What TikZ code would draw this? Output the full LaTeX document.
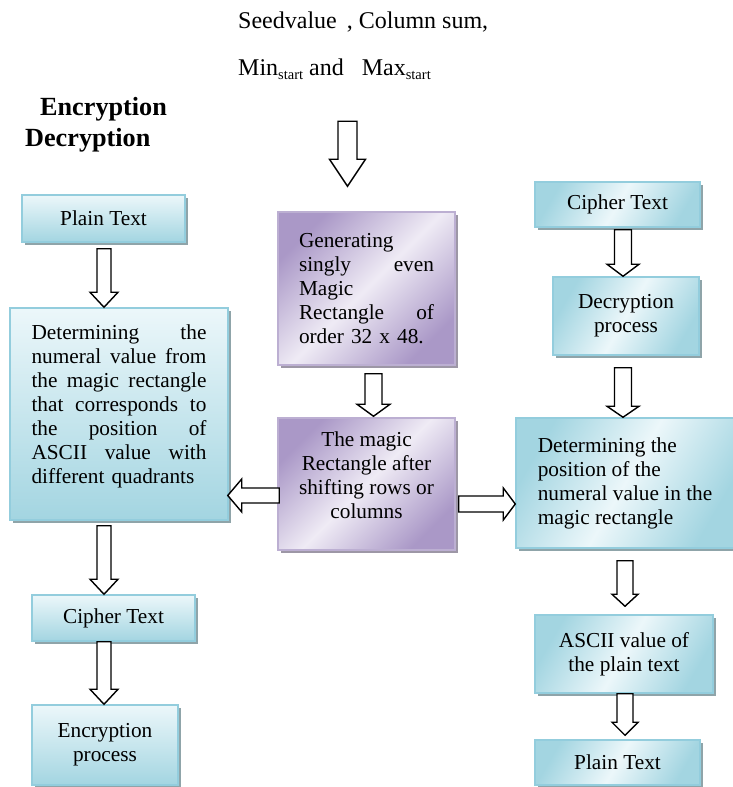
\documentclass[tikz,border=0pt]{standalone}
\usepackage{fontspec}
\setmainfont{Liberation Serif}
\usetikzlibrary{calc,shadows}

\definecolor{cyanEdge}{HTML}{93CDDD}
\definecolor{cyanDark}{HTML}{A3D5E1}
\definecolor{cyanLight}{HTML}{ECF7FA}
\definecolor{purpDark}{HTML}{AA98C7}
\definecolor{purpLight}{HTML}{EFEBF5}
\definecolor{purpEdge}{HTML}{BCAFD2}
\definecolor{shadowC}{HTML}{8FA4A9}
\definecolor{shadowP}{HTML}{9D97A6}

\newcommand\vblk[5]{\draw[blockarrow] let \p1=#1, \p2=#2 in
  (\x1-#3,\y1) -- (\x1+#3,\y1) -- (\x1+#3,\y2+#5) -- (\x1+#4,\y2+#5) -- (\x1,\y2)
  -- (\x1-#4,\y2+#5) -- (\x1-#3,\y2+#5) -- cycle;}
\newcommand\lblk[5]{\draw[blockarrow] let \p1=#1, \p2=#2 in
  (\x1,\y1+#3) -- (\x1,\y1-#3) -- (\x2+#5,\y1-#3) -- (\x2+#5,\y1-#4) -- (\x2,\y1)
  -- (\x2+#5,\y1+#4) -- (\x2+#5,\y1+#3) -- cycle;}
\newcommand\rblk[5]{\draw[blockarrow] let \p1=#1, \p2=#2 in
  (\x1,\y1+#3) -- (\x1,\y1-#3) -- (\x2-#5,\y1-#3) -- (\x2-#5,\y1-#4) -- (\x2,\y1)
  -- (\x2-#5,\y1+#4) -- (\x2-#5,\y1+#3) -- cycle;}
\newcommand\jline[2]{\makebox[#1][l]{#2}}

\tikzset{
  box/.style={draw, line width=1.5pt, font=\fontsize{21.3}{24}\selectfont,
    inner sep=0pt, align=center},
  cshadow/.style={drop shadow={shadow xshift=3pt, shadow yshift=-3pt, fill=shadowC, opacity=1}},
  pshadow/.style={drop shadow={shadow xshift=3pt, shadow yshift=-3pt, fill=shadowP, opacity=1}},
  cyanV/.style={box, draw=cyanEdge, top color=cyanLight, bottom color=cyanDark, cshadow},
  cyanD/.style={box, draw=cyanEdge, left color=cyanDark, right color=cyanDark,
    middle color=cyanLight, shading angle=60, cshadow},
  purp/.style={box, draw=purpEdge, left color=purpDark, right color=purpDark,
    middle color=purpLight, shading angle=45, pshadow},
  blockarrow/.style={draw=black, line width=1.4pt, fill=white, line join=miter},
  plaintext/.style={inner sep=0pt, font=\fontsize{24}{28}\selectfont},
  title/.style={inner sep=0pt, font=\fontsize{26.2}{30}\selectfont\bfseries},
}

\newcommand\subst{\raisebox{-4.5pt}{\fontsize{14.5}{16}\selectfont start}}

\begin{document}
\begin{tikzpicture}[x=1pt, y=-1pt]
\useasboundingbox (0,0) rectangle (732,787);

% top texts
\node[plaintext, anchor=base west] (seed1) at (238,28) {Seedvalue\hspace{10pt}, Column sum,};
\node[plaintext, anchor=base west] (seed2) at (238,75) {Min\subst{} and\hspace{18pt}Max\subst};

% titles
\node[title, anchor=base west] (enc) at (40,115) {Encryption};
\node[title, anchor=base west] (dec) at (25,146) {Decryption};

% left column
\node[cyanV, minimum width=163pt, minimum height=47pt] (ptL) at (103.5,218.5) {Plain Text};
\node[cyanV, minimum width=218pt, minimum height=212pt, text width=175pt, align=left] (detL) at (119,414)
  {\jline{175pt}{Determining\hfill the}\\
   \jline{175pt}{numeral\hfill value\hfill from}\\
   \jline{175pt}{the\hfill magic\hfill rectangle}\\
   \jline{175pt}{that\hfill corresponds\hfill to}\\
   \jline{175pt}{the\hfill position\hfill of}\\
   \jline{175pt}{ASCII\hfill value\hfill with}\\
   different quadrants\\[-4pt]\mbox{}};
\node[cyanV, minimum width=163pt, minimum height=46pt] (ctL) at (113.5,618) {Cipher Text};
\node[cyanV, minimum width=146pt, minimum height=80pt] (encL) at (105,745) {Encryption\\process};

% center column
\node[purp, minimum width=177pt, minimum height=153pt, text width=135pt, align=left] (gen) at (366.5,288.5)
  {Generating\\
   \jline{135pt}{singly\hfill even}\\
   Magic\\
   \jline{135pt}{Rectangle\hfill of}\\
   order 32 x 48.};
\node[purp, minimum width=177pt, minimum height=132pt] (mag) at (366.5,484)
  {The magic\\Rectangle after\\shifting rows or\\columns\\[-6pt]\mbox{}};

% right column
\node[cyanD, minimum width=165pt, minimum height=45pt] (ctR) at (617.5,204.5) {Cipher Text};
\node[cyanD, minimum width=146pt, minimum height=78pt] (decR) at (626,316) {Decryption\\process};
\node[cyanD, minimum width=218pt, minimum height=130pt, align=left] (detR) at (625,483)
  {Determining the\\position of the\\numeral value in the\\magic rectangle};
\node[cyanD, minimum width=178pt, minimum height=78pt] (asc) at (624,654) {ASCII value of\\the plain text};
\node[cyanD, minimum width=165pt, minimum height=45pt] (ptR) at (617.5,762.5) {Plain Text};

% arrows
\vblk{($(gen.north)+(-19,-90)$)}{($(gen.north)+(-19,-25)$)}{9.5pt}{18pt}{27pt}
\vblk{($(ptL.south)+(0.5,6)$)}{($(detL.north -| ptL.south)+(0.5,0)$)}{7pt}{14pt}{15pt}
\vblk{($(detL.south -| ptL.south)+(0.5,5)$)}{($(ctL.north -| ptL.south)+(0.5,0)$)}{7pt}{14pt}{15pt}
\vblk{($(ctL.south -| ptL.south)+(0.5,0)$)}{($(encL.north -| ptL.south)+(0.5,0)$)}{7pt}{14pt}{15pt}
\vblk{($(gen.south)+(7,8)$)}{($(mag.north)+(7,-1)$)}{8.5pt}{16.5pt}{12pt}
\vblk{($(ctR.south)+(5.5,2)$)}{($(decR.north)+(-3,0)$)}{8.5pt}{16pt}{12pt}
\vblk{($(decR.south)+(-3,12)$)}{($(detR.north)+(-2,0)$)}{8.5pt}{16pt}{11pt}
\vblk{($(detR.south)+(0,12)$)}{($(asc.north)+(1,-8)$)}{8pt}{13pt}{12pt}
\vblk{($(asc.south)+(1,0)$)}{($(ptR.north)+(7.5,-4)$)}{8pt}{13pt}{13pt}
\lblk{($(mag.west)+(2,11.5)$)}{($(detL.east)+(-1,81.5)$)}{7.5pt}{16.5pt}{14pt}
\rblk{($(mag.east)+(3,20)$)}{($(detR.west)+(0,21)$)}{8pt}{16pt}{12pt}
\end{tikzpicture}
\end{document}
